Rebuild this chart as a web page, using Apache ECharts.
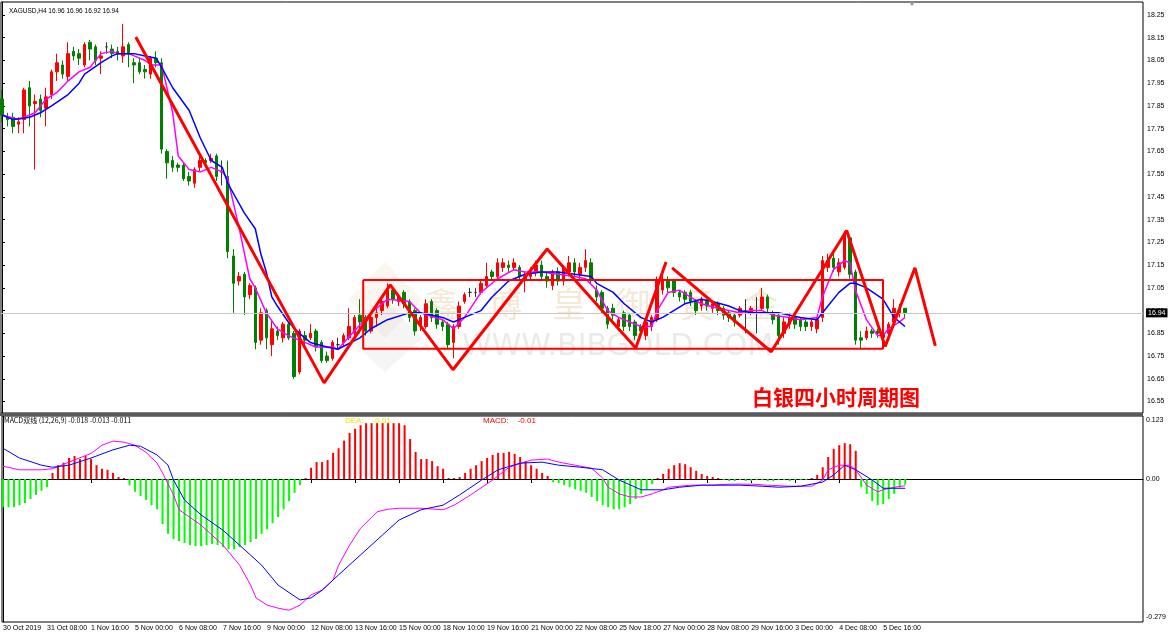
<!DOCTYPE html>
<html><head><meta charset="utf-8">
<script src="https://cdn.jsdelivr.net/npm/echarts@6/dist/echarts.min.js"></script>
<style>html,body{margin:0;padding:0;background:#fff}#c{width:1170px;height:634px}</style>
</head><body><div id="c"></div>
<script>
// ---------- DATA ----------
const tickLabels = ['30 Oct 2019','31 Oct 08:00','1 Nov 16:00','5 Nov 00:00','6 Nov 08:00','7 Nov 16:00','9 Nov 00:00','12 Nov 08:00','13 Nov 16:00','15 Nov 00:00','18 Nov 10:00','19 Nov 16:00','21 Nov 00:00','22 Nov 08:00','25 Nov 18:00','27 Nov 00:00','28 Nov 08:00','29 Nov 16:00','3 Dec 00:00','4 Dec 08:00','5 Dec 16:00'];
const tickBars = [0,8,16,24,32,40,48,56,64,72,80,88,96,104,112,120,128,136,144,152,160];
const priceTicks = [16.55,16.65,16.75,16.85,16.95,17.05,17.15,17.25,17.35,17.45,17.55,17.65,17.75,17.85,17.95,18.05,18.15,18.25];
const macdTicks = [0.123,0,-0.279];
const lastPrice = 16.94;

const opens = [17.88,17.80,17.80,17.77,17.79,17.93,17.86,17.88,17.84,17.90,18.00,18.03,17.98,18.09,18.08,18.03,18.13,18.11,18.06,18.11,
18.10,18.09,18.07,18.12,18.04,18.04,18.01,17.99,18.06,18.04,17.65,17.61,17.59,17.59,17.54,17.51,17.58,17.61,17.61,17.63,
17.56,17.54,17.19,17.08,17.11,17.02,17.05,16.82,16.95,16.80,16.86,16.83,16.89,16.85,16.68,16.84,16.83,16.86,16.81,16.75,
16.74,16.80,16.81,16.83,16.85,16.93,16.92,16.86,16.92,16.95,16.97,17.04,16.99,17.03,16.99,16.95,16.88,16.88,16.99,16.95,
16.90,16.89,16.81,16.88,16.99,17.03,17.03,17.03,17.06,17.12,17.10,17.14,17.15,17.14,17.14,17.09,17.10,17.12,17.15,17.10,
17.06,17.12,17.08,17.12,17.16,17.11,17.14,17.16,17.04,17.03,16.96,16.96,16.88,16.94,16.93,16.90,16.88,16.84,16.88,16.91,
17.04,17.08,17.08,17.03,17.03,17.03,16.99,16.97,16.99,16.96,16.98,16.96,16.94,16.93,16.93,16.95,16.94,16.95,16.96,17.01,
16.94,16.93,16.85,16.89,16.92,16.91,16.90,16.88,16.87,16.92,17.14,17.18,17.12,17.14,17.27,17.12,16.83,16.83,16.86,16.86,
16.83,16.85,16.90,16.94,16.96];
const closes = [17.81,17.79,17.76,17.78,17.92,17.85,17.87,17.83,17.89,18.00,18.04,17.99,18.08,18.07,18.06,18.12,18.10,18.05,18.07,18.11,
18.08,18.08,18.11,18.08,18.03,18.00,18.00,18.06,18.04,17.66,17.60,17.58,17.58,17.53,17.52,17.57,17.61,17.60,17.62,17.54,
17.56,17.21,17.07,17.10,17.01,17.06,16.81,16.94,16.83,16.87,16.84,16.89,16.83,16.66,16.86,16.82,16.85,16.79,16.73,16.73,
16.81,16.80,16.84,16.88,16.92,16.90,16.86,16.92,16.94,16.99,17.04,17.00,17.01,16.98,16.92,16.86,16.92,16.98,16.92,16.89,
16.88,16.80,16.88,16.97,17.02,17.03,17.03,17.07,17.10,17.10,17.16,17.16,17.14,17.16,17.10,17.10,17.12,17.15,17.10,17.08,
17.12,17.08,17.14,17.16,17.12,17.14,17.17,17.09,17.01,16.96,16.89,16.93,16.91,16.88,16.88,16.84,16.86,16.90,16.92,17.08,
17.08,17.05,17.03,17.01,17.00,16.99,16.95,17.00,16.97,16.98,16.95,16.93,16.92,16.90,16.96,16.95,16.96,16.95,17.01,16.96,
16.91,16.84,16.90,16.92,16.89,16.88,16.88,16.90,16.91,17.17,17.17,17.14,17.16,17.29,17.11,16.82,16.82,16.86,16.85,16.85,
16.85,16.89,16.96,16.96,16.94];
const lows = [17.78,17.76,17.73,17.73,17.73,17.76,17.57,17.80,17.76,17.88,17.96,17.97,17.96,18.05,18.03,18.02,18.05,18.03,17.99,18.08,
18.06,18.05,18.04,18.02,17.95,17.99,17.97,17.97,18.02,17.64,17.53,17.56,17.56,17.52,17.50,17.49,17.56,17.58,17.60,17.52,
17.50,17.18,16.94,17.06,16.93,17.00,16.78,16.80,16.78,16.75,16.82,16.81,16.82,16.65,16.67,16.80,16.82,16.77,16.72,16.72,
16.73,16.78,16.79,16.82,16.84,16.85,16.84,16.85,16.88,16.93,16.96,16.98,16.97,16.96,16.90,16.84,16.86,16.87,16.90,16.87,
16.86,16.78,16.74,16.87,16.98,17.01,17.01,17.02,17.05,17.08,17.09,17.12,17.12,17.13,17.08,17.03,17.08,17.10,17.08,17.05,
17.04,17.06,17.06,17.10,17.10,17.09,17.12,17.07,16.99,16.94,16.87,16.91,16.86,16.86,16.86,16.82,16.84,16.82,16.86,16.90,
17.02,17.03,17.01,16.99,16.98,16.97,16.93,16.95,16.95,16.94,16.93,16.91,16.90,16.88,16.92,16.85,16.93,16.85,16.95,16.94,
16.89,16.80,16.83,16.87,16.87,16.86,16.86,16.86,16.85,16.90,17.12,17.12,17.10,17.13,17.09,16.80,16.78,16.82,16.83,16.83,
16.79,16.84,16.89,16.92,16.92];
const highs = [17.92,17.82,17.82,17.80,17.93,17.96,17.90,17.90,17.93,18.01,18.08,18.05,18.13,18.11,18.10,18.13,18.14,18.12,18.09,18.13,
18.12,18.11,18.21,18.13,18.06,18.06,18.03,18.07,18.09,18.06,17.66,17.63,17.60,17.60,17.56,17.58,17.63,17.62,17.64,17.64,
17.61,17.61,17.22,17.12,17.12,17.07,17.06,16.96,16.96,16.91,16.88,16.90,16.90,16.86,16.87,16.86,16.89,16.87,16.82,16.77,
16.82,16.83,16.85,16.96,16.93,17.00,16.93,16.93,16.96,17.00,17.07,17.05,17.02,17.04,17.00,16.96,16.93,17.00,17.00,16.96,
16.91,16.90,16.89,16.99,17.03,17.05,17.05,17.08,17.16,17.13,17.18,17.18,17.17,17.18,17.15,17.12,17.14,17.17,17.17,17.12,
17.13,17.14,17.15,17.19,17.18,17.16,17.22,17.18,17.06,17.04,16.97,16.98,16.92,16.95,16.94,16.91,16.89,16.91,16.93,17.10,
17.12,17.10,17.09,17.04,17.04,17.04,17.00,17.01,17.00,16.99,16.99,16.97,16.95,16.94,16.97,17.00,16.97,17.01,17.05,17.02,
16.95,16.94,16.92,16.94,16.93,16.92,16.91,16.91,16.92,17.19,17.20,17.20,17.18,17.30,17.28,17.13,16.86,16.88,16.87,16.87,
16.86,16.90,17.00,16.98,16.96];

// moving averages: [bar, price]
const maFast = [[0,17.81],[3,17.79],[6,17.82],[8,17.88],[10,17.91],[12,17.96],[14,18.00],[16,18.02],[18,18.08],[20,18.09],[21,18.08],[23,18.08],[24,18.07],[26,18.05],[27,18.03],[29,18.03],[31,17.82],[32,17.63],[34,17.57],[36,17.56],[38,17.58],[40,17.56],[41,17.53],[43,17.32],[45,17.09],[46,17.05],[48,16.94],[50,16.87],[52,16.84],[55,16.81],[57,16.79],[60,16.79],[61,16.78],[64,16.86],[67,16.94],[70,17.00],[74,16.99],[76,16.94],[80,16.91],[82,16.87],[84,16.92],[87,17.03],[90,17.09],[93,17.13],[95,17.12],[98,17.12],[101,17.11],[104,17.10],[106,17.09],[108,17.04],[110,16.95],[112,16.92],[114,16.90],[116,16.88],[118,16.88],[119,16.95],[121,17.03],[123,17.04],[125,17.01],[127,16.98],[130,16.96],[132,16.95],[134,16.94],[136,16.95],[138,16.95],[140,16.93],[143,16.92],[145,16.91],[148,16.92],[149,17.01],[151,17.13],[153,17.17],[154,17.16],[155,17.04],[157,16.91],[159,16.84],[160,16.84],[161,16.87],[163,16.90],[164,16.92]];
const maSlow = [[0,17.81],[2,17.79],[5,17.80],[7,17.82],[9,17.85],[12,17.90],[14,17.95],[15,17.99],[18,18.04],[20,18.07],[21,18.08],[24,18.08],[26,18.07],[28,18.06],[29,18.02],[31,17.93],[34,17.83],[36,17.71],[38,17.61],[40,17.58],[41,17.51],[44,17.38],[46,17.31],[47,17.20],[48,17.12],[49,17.01],[50,16.97],[52,16.90],[54,16.85],[56,16.81],[59,16.79],[61,16.78],[65,16.83],[67,16.87],[70,16.91],[74,16.94],[76,16.94],[80,16.92],[82,16.90],[84,16.92],[87,16.95],[89,17.01],[92,17.08],[95,17.11],[98,17.12],[101,17.12],[104,17.11],[107,17.10],[108,17.07],[111,17.03],[113,16.98],[116,16.92],[118,16.90],[120,16.92],[122,16.95],[124,16.98],[127,17.00],[129,16.99],[132,16.97],[134,16.95],[136,16.94],[139,16.94],[141,16.94],[145,16.92],[148,16.91],[150,16.97],[152,17.03],[154,17.07],[155,17.07],[157,17.05],[160,17.00],[162,16.92],[164,16.88]];

// MACD panel
const macdHist = [-0.055,-0.055,-0.055,-0.051,-0.047,-0.039,-0.031,-0.023,-0.016,
0.012,0.027,0.032,0.041,0.045,0.039,0.045,0.039,0.027,0.020,0.018,0.012,0.004,0.002,
-0.012,-0.025,-0.033,-0.041,-0.051,-0.059,-0.088,-0.107,-0.117,-0.121,-0.125,-0.129,-0.131,-0.131,-0.129,-0.127,-0.129,-0.133,-0.137,-0.137,-0.133,-0.129,-0.123,-0.117,-0.107,-0.098,-0.086,-0.074,-0.059,-0.043,-0.027,-0.012,
0.002,0.022,0.033,0.033,0.037,0.051,0.060,0.075,0.090,0.098,0.105,0.109,0.109,0.109,0.109,0.109,0.109,0.109,0.105,0.078,0.053,0.039,0.039,0.035,0.025,0.020,0.002,
0.002,0.004,0.012,0.020,0.027,0.035,0.041,0.047,0.051,0.051,0.053,0.049,0.043,0.035,0.027,0.020,0.012,0.006,
-0.006,-0.008,-0.012,-0.016,-0.020,-0.023,
-0.027,-0.035,-0.043,-0.051,-0.055,-0.059,-0.059,-0.055,-0.049,-0.039,-0.029,-0.020,-0.010,
0.002,0.010,
0.020,0.027,0.031,0.029,0.023,0.016,0.010,0.006,0.004,0.002,
-0.002,-0.004,-0.004,-0.002,-0.004,-0.004,-0.002,-0.002,-0.004,-0.004,-0.002,-0.002,-0.004,-0.002,-0.002,-0.002,0.002,
0.008,0.023,0.043,0.059,0.066,0.070,0.068,0.055,
-0.016,-0.029,-0.043,-0.051,-0.049,-0.039,-0.029,-0.016,-0.011];
const macdDif = [[0,0.025],[3,0.018],[7,0.018],[9,0.020],[12,0.033],[16,0.050],[18,0.066],[20,0.074],[22,0.072],[24,0.066],[26,0.052],[28,0.031],[29,0.012],[31,-0.031],[32,-0.060],[36,-0.090],[40,-0.129],[43,-0.168],[45,-0.207],[46,-0.232],[48,-0.246],[50,-0.252],[52,-0.256],[54,-0.246],[56,-0.226],[58,-0.217],[60,-0.197],[61,-0.168],[63,-0.129],[65,-0.096],[68,-0.064],[70,-0.059],[72,-0.057],[76,-0.057],[80,-0.060],[82,-0.051],[85,-0.031],[89,-0.002],[92,0.023],[96,0.037],[99,0.039],[101,0.033],[104,0.027],[107,0.021],[109,0.002],[110,-0.016],[112,-0.029],[114,-0.035],[116,-0.035],[118,-0.029],[120,-0.021],[121,-0.016],[125,-0.012],[129,-0.012],[132,-0.010],[136,-0.010],[139,-0.012],[143,-0.014],[147,-0.014],[149,-0.002],[150,0.018],[152,0.027],[154,0.027],[155,0.018],[157,-0.012],[159,-0.025],[160,-0.021],[162,-0.016],[164,-0.013]];
const macdDea = [[0,0.060],[3,0.041],[7,0.027],[9,0.023],[12,0.027],[16,0.041],[20,0.057],[23,0.066],[25,0.064],[28,0.047],[30,0.027],[31,-0.002],[33,-0.041],[36,-0.070],[40,-0.100],[43,-0.129],[47,-0.168],[50,-0.207],[54,-0.236],[56,-0.232],[58,-0.217],[61,-0.187],[65,-0.148],[69,-0.109],[72,-0.080],[76,-0.060],[80,-0.051],[83,-0.031],[87,-0.002],[90,0.018],[94,0.031],[98,0.033],[101,0.027],[105,0.023],[109,0.018],[112,-0.002],[116,-0.021],[120,-0.021],[123,-0.016],[127,-0.012],[130,-0.012],[134,-0.012],[138,-0.014],[141,-0.016],[145,-0.014],[149,-0.006],[151,0.008],[153,0.027],[155,0.018],[158,-0.002],[160,-0.018],[164,-0.018]];

// hand-drawn red annotations: [bar, price]
const zigzagA = [[24.3,18.153],[58.5,16.632],[70.5,17.063],[81.9,16.690],[99.0,17.221],[115.1,16.786],[120.6,17.164]];
const zigzagB = [[121.7,17.138],[139.7,16.769],[153.4,17.302],[160.4,16.792],[165.8,17.138],[169.5,16.795]];
const boxCorners = [[65.6,17.085],[160.0,17.085],[160.0,16.782],[65.6,16.782],[65.6,17.085]];

// watermark text
const watermarkChars = ['鑫','博','皇','御','黄','金'];
const watermarkUrl = 'WWW.BIBGOLD.COM';

// ---------- CHART ----------
const FONT = 'Liberation Sans';
const candleData = opens.map((o, i) => [i, o, closes[i], lows[i], highs[i]]);
const histData = macdHist.map((v, i) => [i, v]);
const X_MIN = -0.18, X_MAX = 207.22;

const wmGraphics = watermarkChars.map((ch, k) => ({
  type: 'text', left: 424 + k * 64, top: 287, z: 0, silent: true,
  style: {text: ch, fontSize: 34, fontFamily: 'Noto Sans CJK SC', fill: 'rgba(215,165,95,0.26)'}
}));

const chart = echarts.init(document.getElementById('c'), null, {renderer: 'canvas'});
chart.setOption({
  animation: false,
  backgroundColor: '#ffffff',
  title: {text: 'XAGUSD,H4 16.96 16.96 16.92 16.94', left: 4, top: 3,
    textStyle: {fontSize: 6.5, fontWeight: 'normal', color: '#000', fontFamily: FONT}},
  grid: [
    {left: 1, right: 27, top: 2, height: 411, show: true, borderColor: '#000', borderWidth: 1, backgroundColor: 'transparent'},
    {left: 1, right: 27, top: 416, height: 206, show: true, borderColor: '#000', borderWidth: 1, backgroundColor: 'transparent'}
  ],
  xAxis: [
    {type: 'value', gridIndex: 0, min: X_MIN, max: X_MAX, axisLine: {show: false}, axisTick: {show: false},
      axisLabel: {show: false}, splitLine: {show: false}},
    {type: 'value', gridIndex: 1, min: X_MIN, max: X_MAX, axisLine: {show: true, lineStyle: {color: '#000'}},
      axisTick: {show: true, customValues: tickBars, length: 4, lineStyle: {color: '#000'}},
      axisLabel: {show: true, customValues: tickBars, align: 'left', margin: 3, fontSize: 7, color: '#000', fontFamily: FONT,
        formatter: v => tickLabels[tickBars.indexOf(Math.round(v))] || ''},
      splitLine: {show: false}}
  ],
  yAxis: [
    {type: 'value', gridIndex: 0, position: 'right', min: 16.4996, max: 18.3071,
      axisLine: {show: true, lineStyle: {color: '#000'}},
      axisTick: {show: true, customValues: priceTicks, length: 3, lineStyle: {color: '#000'}},
      axisLabel: {show: true, customValues: priceTicks, margin: 4, fontSize: 7, color: '#000', fontFamily: FONT,
        formatter: v => v.toFixed(2)},
      splitLine: {show: false}},
    {type: 'value', gridIndex: 1, position: 'right', min: -0.279, max: 0.123,
      axisLine: {show: true, lineStyle: {color: '#000'}}, axisTick: {show: false},
      axisLabel: {show: true, customValues: macdTicks, margin: 3, fontSize: 7, color: '#000', fontFamily: FONT,
        formatter: v => v === 0 ? '0.00' : (v > 0 ? '{t|' + v.toFixed(3) + '}' : '{b|' + v.toFixed(3) + '}'),
        rich: {t: {fontSize: 7, padding: [9, 0, 0, 0], fontFamily: FONT}, b: {fontSize: 7, padding: [0, 0, 9, 0], fontFamily: FONT}}},
      splitLine: {show: false}}
  ],
  graphic: wmGraphics.concat([
    {type: 'polygon', z: 0, silent: true, shape: {points: [[385, 262], [422, 300], [385, 338], [348, 300]]},
      style: {fill: 'rgba(215,165,95,0.10)'}},
    {type: 'polygon', z: 0, silent: true, shape: {points: [[385, 300], [422, 338], [385, 372], [348, 338]]},
      style: {fill: 'rgba(160,160,160,0.10)'}},
    {type: 'text', left: 462, top: 332, z: 0, silent: true,
      style: {text: watermarkUrl, fontSize: 30, fontFamily: 'DejaVu Sans', fill: 'rgba(180,180,180,0.28)'}},
    {type: 'rect', left: 0, top: 413, z: 10, silent: true, shape: {width: 1143, height: 3}, style: {fill: '#5a5a5a'}},
    {type: 'text', left: 752, top: 387, z: 20, silent: true,
      style: {text: '白银四小时周期图', fontSize: 21, fontWeight: 'bold', fontFamily: 'Noto Sans CJK SC', fill: '#ff0000',
        textShadowColor: 'rgba(0,0,120,0.6)', textShadowOffsetX: 1, textShadowOffsetY: 1}},
    {type: 'text', left: 4, top: 417, z: 20, silent: true,
      style: {text: 'MACD双线 (12,26,9) -0.018 -0.013 -0.011', fontSize: 7, fontFamily: 'Noto Sans CJK SC', fill: '#000'}},
    {type: 'text', left: 345, top: 417, z: 20, silent: true,
      style: {text: 'DEA:    -0.01', fontSize: 8, fontFamily: FONT, fill: '#e6e600'}},
    {type: 'text', left: 483, top: 417, z: 20, silent: true,
      style: {text: 'MACD:    -0.01', fontSize: 8, fontFamily: FONT, fill: '#ff0000'}},
    {type: 'polygon', z: 20, silent: true, shape: {points: [[909, 2], [915, 2], [912, 6]]}, style: {fill: '#999'}}
  ]),
  series: [
    {type: 'candlestick', name: 'XAGUSD', xAxisIndex: 0, yAxisIndex: 0, data: candleData, encode: {x: 0, y: [1, 2, 3, 4]},
      barWidth: 3, z: 3,
      itemStyle: {color: '#ff0000', color0: '#008000', borderColor: '#ff0000', borderColor0: '#008000', borderColorDoji: '#333333', borderWidth: 1},
      markLine: {silent: true, symbol: ['none', 'none'], animation: false,
        lineStyle: {color: '#c8c8c8', type: 'solid', width: 1},
        label: {show: true, position: 'end', distance: 3, formatter: () => lastPrice.toFixed(2), fontSize: 7, color: '#fff',
          backgroundColor: '#000', padding: [1, 2, 1, 2], fontFamily: FONT},
        data: [{yAxis: lastPrice}]}},
    {type: 'line', name: 'MA fast', xAxisIndex: 0, yAxisIndex: 0, data: maFast, showSymbol: false, z: 4,
      lineStyle: {color: '#ff00ff', width: 1.5}},
    {type: 'line', name: 'MA slow', xAxisIndex: 0, yAxisIndex: 0, data: maSlow, showSymbol: false, z: 4,
      lineStyle: {color: '#0000ff', width: 1.5}},
    {type: 'line', name: 'zigzag A', xAxisIndex: 0, yAxisIndex: 0, data: zigzagA, showSymbol: false, z: 6,
      lineStyle: {color: '#ff0000', width: 3}},
    {type: 'line', name: 'zigzag B', xAxisIndex: 0, yAxisIndex: 0, data: zigzagB, showSymbol: false, z: 6,
      lineStyle: {color: '#ff0000', width: 3}},
    {type: 'line', name: 'range box', xAxisIndex: 0, yAxisIndex: 0, data: boxCorners, showSymbol: false, z: 6,
      lineStyle: {color: '#ff0000', width: 2}},
    {type: 'bar', name: 'MACD', xAxisIndex: 1, yAxisIndex: 1, data: histData, barWidth: 2, z: 3,
      itemStyle: {color: p => p.value[1] >= 0 ? '#ff0000' : '#00ff00'}},
    {type: 'line', name: 'DIF', xAxisIndex: 1, yAxisIndex: 1, data: macdDif, showSymbol: false, z: 4,
      lineStyle: {color: '#ff00ff', width: 1}},
    {type: 'line', name: 'DEA', xAxisIndex: 1, yAxisIndex: 1, data: macdDea, showSymbol: false, z: 4,
      lineStyle: {color: '#0000ff', width: 1}}
  ]
});
</script></body></html>
